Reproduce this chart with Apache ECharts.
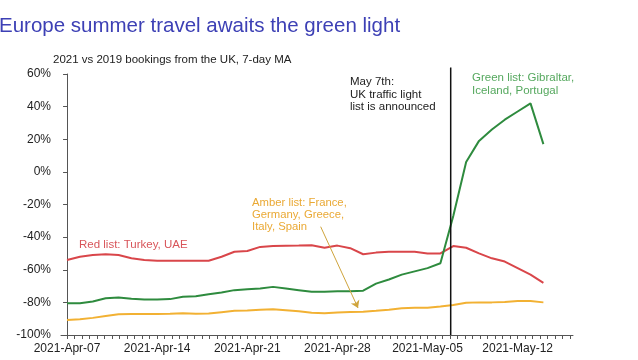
<!DOCTYPE html>
<html>
<head>
<meta charset="utf-8">
<script src="https://cdn.jsdelivr.net/npm/echarts@6/dist/echarts.min.js"></script>
<style>html,body{margin:0;padding:0;background:#fff}#c{width:638px;height:360px}</style>
</head>
<body>
<div id="c"></div>
<script>
// Days from 2021-Apr-07 to 2021-May-14 (index = day offset)
const dates = ['Apr-07','Apr-08','Apr-09','Apr-10','Apr-11','Apr-12','Apr-13','Apr-14','Apr-15','Apr-16',
  'Apr-17','Apr-18','Apr-19','Apr-20','Apr-21','Apr-22','Apr-23','Apr-24','Apr-25','Apr-26',
  'Apr-27','Apr-28','Apr-29','Apr-30','May-01','May-02','May-03','May-04','May-05','May-06',
  'May-07','May-08','May-09','May-10','May-11','May-12','May-13','May-14'];
const redList = [-54,-52,-51,-50.5,-51,-53,-54,-54.5,-54.5,-54.5,-54.5,-54.5,-52,-49,-48.5,-46,-45.5,-45.3,-45.2,-45,
  -46.5,-45.2,-46.8,-50.5,-49.5,-49,-49,-49,-50,-50,-45.5,-46.5,-50,-53,-55,-59,-63,-68];
const greenList = [-80.5,-80.5,-79.5,-77.5,-77,-77.8,-78.3,-78.3,-78,-76.5,-76.3,-75,-74,-72.5,-72,-71.5,-70.5,-71.5,-72.5,-73.5,
  -73.5,-73.2,-73.2,-72.8,-68.5,-66,-63,-61,-59,-56,-27,6,19,26,32,37,42,17];
const amberList = [-90.8,-90.4,-89.5,-88.3,-87.3,-87.1,-87.1,-87.1,-87,-86.7,-87,-86.8,-86,-85.2,-85,-84.5,-84.2,-84.8,-85.5,-86.3,
  -86.7,-86.2,-85.9,-85.7,-85.2,-84.5,-83.6,-83.3,-83.3,-82.6,-81.6,-80.2,-80,-80,-79.7,-79.2,-79.2,-80];
const xTickLabels = ['2021-Apr-07','2021-Apr-14','2021-Apr-21','2021-Apr-28','2021-May-05','2021-May-12'];
const xTickDays = [0,7,14,21,28,35];
const announceDay = 30; // May 7th

const minorTicks = [];
for (let i = 0; i * 7 / 12 <= 39.3; i++) minorTicks.push(i * 7 / 12);

const font = 'Liberation Sans, Arial, sans-serif';
const toPairs = arr => arr.map((v, i) => [i, v]);

const chart = echarts.init(document.getElementById('c'), null, {renderer: 'canvas'});
chart.setOption({
  animation: false,
  backgroundColor: '#fff',
  title: {
    text: 'Europe summer travel awaits the green light',
    left: -1, top: 16, padding: 0,
    textStyle: {color: '#3d40b5', fontSize: 20.5, fontWeight: 'normal', fontFamily: font}
  },
  grid: {left: 61, right: 65, top: 74, bottom: 25, containLabel: false},
  xAxis: {
    type: 'value', min: -0.47, max: 39.3,
    axisLine: {show: true, onZero: false, lineStyle: {color: '#555', width: 1}},
    axisTick: {show: true, length: 4, customValues: minorTicks, lineStyle: {color: '#555'}},
    splitLine: {show: false},
    axisLabel: {
      customValues: xTickDays, margin: 8, color: '#222', fontSize: 12, fontFamily: font,
      formatter: v => xTickLabels[xTickDays.indexOf(Math.round(v))] || ''
    }
  },
  yAxis: {
    type: 'value', min: -100, max: 60, interval: 20,
    axisLine: {show: true, lineStyle: {color: '#555', width: 1}},
    axisTick: {show: true, length: 4, lineStyle: {color: '#555'}},
    splitLine: {show: false},
    axisLabel: {margin: 10, color: '#222', fontSize: 12, fontFamily: font, formatter: v => v + '%'}
  },
  series: [
    {
      name: 'Red list', type: 'line', data: toPairs(redList), showSymbol: false,
      lineStyle: {color: '#d9464a', width: 2}, itemStyle: {color: '#d9464a'}
    },
    {
      name: 'Amber list', type: 'line', data: toPairs(amberList), showSymbol: false,
      lineStyle: {color: '#f2b133', width: 2}, itemStyle: {color: '#f2b133'},
      markLine: {
        silent: true, symbol: ['none', 'arrow'], symbolSize: 7,
        lineStyle: {color: '#cfa43c', width: 1, type: 'solid'},
        label: {show: false},
        data: [[{coord: [19.7, -33.6]}, {coord: [22.6, -83.4]}]]
      }
    },
    {
      name: 'Green list', type: 'line', data: toPairs(greenList), showSymbol: false,
      lineStyle: {color: '#2e8b3e', width: 2}, itemStyle: {color: '#2e8b3e'}
    }
  ],
  graphic: [
    {id: 'sub', type: 'text', left: 53, top: 54, style: {text: '2021 vs 2019 bookings from the UK, 7-day MA', fill: '#222', font: '11.5px ' + font}},
    {id: 'may', type: 'text', left: 350, top: 76, style: {text: 'May 7th:\nUK traffic light\nlist is announced', fill: '#222', font: '11.5px ' + font, lineHeight: 12.5}},
    {id: 'green', type: 'text', left: 472, top: 72, style: {text: 'Green list: Gibraltar,\nIceland, Portugal', fill: '#55a85e', font: '11.5px ' + font, lineHeight: 12.5}},
    {id: 'red', type: 'text', left: 79, top: 239, style: {text: 'Red list: Turkey, UAE', fill: '#d8555a', font: '11.5px ' + font}},
    {id: 'amber', type: 'text', left: 252, top: 197, style: {text: 'Amber list: France,\nGermany, Greece,\nItaly, Spain', fill: '#eaa935', font: '11.3px ' + font, lineHeight: 12}}
  ]
});

// Vertical announcement line, positioned through the chart's own scales
const pBottom = chart.convertToPixel({gridIndex: 0}, [announceDay - 0.2, -100]);
const pTop = chart.convertToPixel({gridIndex: 0}, [announceDay - 0.2, 64]);
chart.setOption({
  graphic: [
    {id: 'vline', type: 'line', z: 10, shape: {x1: pBottom[0], y1: pBottom[1], x2: pTop[0], y2: pTop[1]},
      style: {stroke: '#111', lineWidth: 1.5, fill: null}}
  ]
});
</script>
</body>
</html>
